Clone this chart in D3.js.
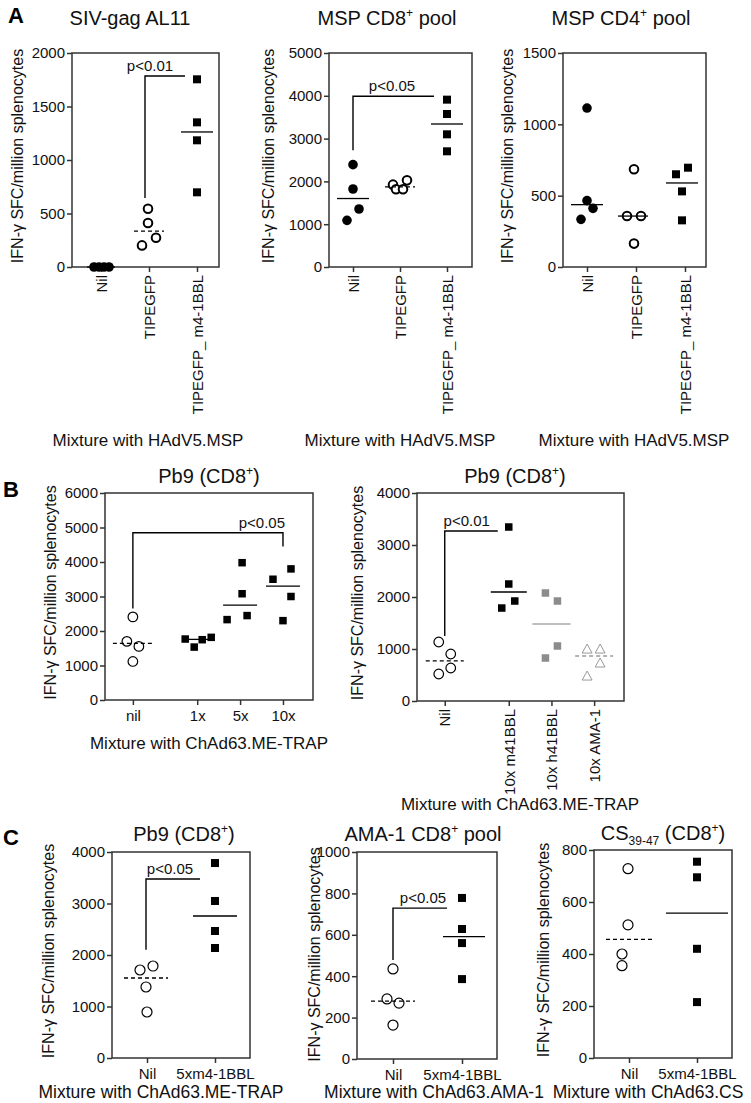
<!DOCTYPE html>
<html><head><meta charset="utf-8">
<script src="https://cdn.jsdelivr.net/npm/d3@7/dist/d3.min.js"></script>
<style>body{margin:0;background:#fff}svg{display:block}</style>
</head><body>
<svg id="fig" width="751" height="1103"></svg>
<script>
// ================= DATA =================
// Panel A (Mixture with HAdV5.MSP)
const aCategories = ["Nil", "TIPEGFP", "TIPEGFP_ m4-1BBL"];
const a1Ticks = [0, 500, 1000, 1500, 2000];
const a1Nil = [0, 0, 0, 0];
const a1Tipegfp = [545, 411, 274, 202];
const a1M41bbl = [1754, 1352, 1184, 698];
const a1Medians = [0, 336, 1262];
const a2Ticks = [0, 1000, 2000, 3000, 4000, 5000];
const a2Nil = [2391, 1822, 1355, 1090];
const a2Tipegfp = [1924, 2025, 1815, 1815];
const a2M41bbl = [3910, 3575, 3100, 2703];
const a2Medians = [1600, 1870, 3341];
const a3Ticks = [0, 500, 1000, 1500];
const a3Nil = [1114, 465, 411, 334];
const a3Tipegfp = [685, 357, 357, 164];
const a3M41bbl = [650, 696, 530, 327];
const a3Medians = [437, 357, 589];
// Panel B (Mixture with ChAd63.ME-TRAP)
const b1Categories = ["nil", "1x", "5x", "10x"];
const b1Ticks = [0, 1000, 2000, 3000, 4000, 5000, 6000];
const b1Nil = [2408, 1699, 1553, 1117];
const b1X1 = [1767, 1534, 1748, 1816];
const b1X5 = [3980, 3080, 2447, 2330];
const b1X10 = [3800, 3500, 3000, 2300];
const b1Medians = [1641, 1757, 2750, 3300];
const b2Categories = ["Nil", "10x m41BBL", "10x h41BBL", "10x AMA-1"];
const b2Ticks = [0, 1000, 2000, 3000, 4000];
const b2Nil = [1135, 904, 519, 635];
const b2M41bbl = [3346, 2250, 1923, 1788];
const b2H41bbl = [2077, 1923, 1058, 827];
const b2Ama1 = [1000, 1000, 731, 481];
const b2Medians = [770, 2096, 1481, 865];
// Panel C
const cCategories = ["Nil", "5xm4-1BBL"];
const c1Ticks = [0, 1000, 2000, 3000, 4000];
const c1Nil = [1709, 1786, 1379, 893];
const c1M41bbl = [3786, 3049, 2466, 2136];
const c1Medians = [1553, 2757];
const c2Ticks = [0, 200, 400, 600, 800, 1000];
const c2Nil = [435, 290, 270, 164];
const c2M41bbl = [778, 628, 560, 386];
const c2Medians = [280, 591];
const c3Ticks = [0, 200, 400, 600, 800];
const c3Nil = [728, 512, 400, 355];
const c3M41bbl = [755, 695, 420, 215];
const c3Medians = [456, 557];
// Significance annotations (values in data units)
const a1Sig = { label: "p<0.01", low: 645, top: 1785 };
const a2Sig = { label: "p<0.05", low: 2730, top: 3990 };
const b1Sig = { label: "p<0.05", low: 2650, top: 4850, rightLow: 4450 };
const b2Sig = { label: "p<0.01", low: 1250, top: 3270 };
const c1Sig = { label: "p<0.05", low: 2100, top: 3476 };
const c2Sig = { label: "p<0.05", low: 478, top: 729 };

const yLabel = "IFN-\u03b3 SFC/million splenocytes";

// ================= LAYOUT / STYLE =================
const FONT = '"Liberation Sans", Arial, Helvetica, sans-serif';
const AX = "#333";
const svg = d3.select("#fig");

function styleAxis(sel, fs) {
  sel.attr("font-family", FONT).attr("font-size", fs);
  sel.select(".domain").remove();
  sel.selectAll(".tick line").attr("stroke", AX).attr("stroke-width", 1.5);
  sel.selectAll(".tick text").attr("fill", "#111");
}

function marker(g, type, cx, cy, sz) {
  if (type === "dot") {
    g.append("circle").attr("cx", cx).attr("cy", cy).attr("r", sz.dot).attr("fill", "#000");
  } else if (type === "ring") {
    g.append("circle").attr("cx", cx).attr("cy", cy).attr("r", sz.ring)
      .attr("fill", "#fff").attr("stroke", "#000").attr("stroke-width", sz.ringW);
  } else if (type === "square" || type === "graySquare") {
    g.append("rect").attr("x", cx - sz.sq / 2).attr("y", cy - sz.sq / 2)
      .attr("width", sz.sq).attr("height", sz.sq)
      .attr("fill", type === "square" ? "#000" : "#8c8c8c");
  } else if (type === "triangle") {
    const h = sz.tri;
    g.append("path")
      .attr("d", `M${cx},${cy - h * 0.55}L${cx + h * 0.55},${cy + h * 0.45}L${cx - h * 0.55},${cy + h * 0.45}Z`)
      .attr("fill", "#fff").attr("stroke", "#9a9a9a").attr("stroke-width", 1);
  }
}

function titleText(g, x, y, parts, fs) {
  const t = g.append("text").attr("x", x).attr("y", y).attr("text-anchor", "middle")
    .attr("font-family", FONT).attr("font-size", fs).attr("fill", "#111");
  parts.forEach(pt => {
    const s = t.append("tspan").text(pt.t);
    if (pt.sup) s.attr("font-size", fs * 0.6).attr("dy", -fs * 0.4);
    if (pt.sub) s.attr("font-size", fs * 0.6).attr("dy", fs * 0.25);
    if (pt.back) s.attr("dy", pt.back);
  });
}

function drawPanel(p) {
  const g = svg.append("g");
  const y = d3.scaleLinear().domain([0, d3.max(p.ticks)]).range([p.bottom, p.top]);
  const x = p.x;
  const ya = g.append("g").attr("transform", `translate(${p.left},0)`)
    .call(d3.axisLeft(y).tickValues(p.ticks).tickSize(5).tickPadding(2).tickFormat(d3.format("d")));
  styleAxis(ya, 15);
  const xa = g.append("g").attr("transform", `translate(0,${p.bottom})`)
    .call(d3.axisBottom(x).tickSize(5).tickPadding(5));
  styleAxis(xa, 15);
  if (p.rotate) {
    xa.selectAll(".tick text").attr("transform", "rotate(-90)").attr("text-anchor", "end")
      .attr("x", -8).attr("y", 0).attr("dy", "0.35em");
  }
  g.append("rect").attr("x", p.left).attr("y", p.top)
    .attr("width", p.right - p.left).attr("height", p.bottom - p.top)
    .attr("fill", "none").attr("stroke", AX).attr("stroke-width", 1.5);

  p.series.forEach(s => {
    const cx = x(s.cat);
    s.values.forEach((v, i) => marker(g, s.marker, cx + s.jitter[i], y(v), p.sz));
    const lx = cx + (s.lineOff || 0);
    g.append("line").attr("x1", lx - s.half).attr("x2", lx + s.half)
      .attr("y1", y(s.median)).attr("y2", y(s.median))
      .attr("stroke", s.lineColor || "#000").attr("stroke-width", 1.3)
      .attr("stroke-dasharray", s.dashed ? "4,3" : null);
  });

  if (p.sig) {
    const S = p.sig;
    const x1 = x(S.from) + S.dx1, x2 = x(S.to) + S.dx2;
    let d = `M${x1},${y(S.low)}V${y(S.top)}H${x2}`;
    if (S.rightLow != null) d += `V${y(S.rightLow)}`;
    g.append("path").attr("d", d).attr("fill", "none").attr("stroke", "#000").attr("stroke-width", 1.4);
    g.append("text").attr("x", x1 + S.labelDx).attr("y", y(S.top) - 5).attr("text-anchor", "middle")
      .attr("font-family", FONT).attr("font-size", 15).attr("fill", "#111").text(S.label);
  }

  titleText(g, p.titleX, p.titleY, p.title, 20);
  g.append("text").attr("transform", `translate(${p.ylabX},${(p.top + p.bottom) / 2 - 4 + (p.ylabDy || 0)}) rotate(-90)`)
    .attr("text-anchor", "middle").attr("dy", "0.35em")
    .attr("font-family", FONT).attr("font-size", 16).attr("fill", "#111").text(yLabel);
  g.append("text").attr("x", p.xtitleX).attr("y", p.xtitleY).attr("text-anchor", "middle")
    .attr("font-family", FONT).attr("font-size", p.xtitleFs || 17).attr("fill", "#111").text(p.xtitle);
}

const szA = { dot: 4.8, ring: 4.3, ringW: 2, sq: 8, tri: 9 };
const szB = { dot: 4.8, ring: 4.8, ringW: 1.2, sq: 7.5, tri: 9 };
const szC = { dot: 4.8, ring: 5, ringW: 1.2, sq: 8, tri: 9 };

function bScale(cats, left, right) {
  const slots = [0, 1.5, 2.5, 3.5];
  const lin = d3.scaleLinear().domain([-0.65, 4.2]).range([left, right]);
  return d3.scaleOrdinal(cats, slots.map(v => lin(v)));
}

// ---------- Panel A ----------
drawPanel({
  left: 72, right: 219, top: 53, bottom: 267, ticks: a1Ticks, rotate: true, sz: szA,
  x: d3.scalePoint(aCategories, [101, 197]),
  series: [
    { cat: aCategories[0], values: a1Nil, jitter: [-7, -2, 3, 8], marker: "dot", median: a1Medians[0], half: 14 },
    { cat: aCategories[1], values: a1Tipegfp, jitter: [-1, -1, 7, -7], marker: "ring", median: a1Medians[1], half: 15, dashed: true },
    { cat: aCategories[2], values: a1M41bbl, jitter: [0, 0, 0, 0], marker: "square", median: a1Medians[2], half: 16 }
  ],
  sig: Object.assign({ from: aCategories[1], to: aCategories[2], dx1: -4, dx2: -12, labelDx: 5 }, a1Sig),
  title: [{ t: "SIV-gag AL11" }], titleX: 130, titleY: 25,
  ylabX: 17, xtitle: "Mixture with HAdV5.MSP", xtitleX: 148, xtitleY: 446
});
drawPanel({
  left: 329, right: 472, top: 53, bottom: 267, ticks: a2Ticks, rotate: true, sz: szA,
  x: d3.scalePoint(aCategories, [353, 447]),
  series: [
    { cat: aCategories[0], values: a2Nil, jitter: [0, 0, 6, -6], marker: "dot", median: a2Medians[0], half: 16 },
    { cat: aCategories[1], values: a2Tipegfp, jitter: [-7, 7, -4, 3], marker: "ring", median: a2Medians[1], half: 15, dashed: true },
    { cat: aCategories[2], values: a2M41bbl, jitter: [0, 0, 0, 0], marker: "square", median: a2Medians[2], half: 16 }
  ],
  sig: Object.assign({ from: aCategories[0], to: aCategories[2], dx1: 0, dx2: -13, labelDx: 39 }, a2Sig),
  title: [{ t: "MSP CD8" }, { t: "+", sup: true }, { t: " pool", back: 8 }], titleX: 387, titleY: 25,
  ylabX: 268, xtitle: "Mixture with HAdV5.MSP", xtitleX: 400, xtitleY: 446
});
drawPanel({
  left: 563, right: 706, top: 53, bottom: 267, ticks: a3Ticks, rotate: true, sz: szA,
  x: d3.scalePoint(aCategories, [587, 685]),
  series: [
    { cat: aCategories[0], values: a3Nil, jitter: [0, 0, 6, -6], marker: "dot", median: a3Medians[0], half: 16 },
    { cat: aCategories[1], values: a3Tipegfp, jitter: [-2, -9, 5, -2], marker: "ring", median: a3Medians[1], half: 15, lineOff: -3 },
    { cat: aCategories[2], values: a3M41bbl, jitter: [-9, 3, -3, -3], marker: "square", median: a3Medians[2], half: 16, lineOff: -3 }
  ],
  title: [{ t: "MSP CD4" }, { t: "+", sup: true }, { t: " pool", back: 8 }], titleX: 621, titleY: 25,
  ylabX: 507, xtitle: "Mixture with HAdV5.MSP", xtitleX: 634, xtitleY: 446
});

// ---------- Panel B ----------
const b1x = bScale(b1Categories, 105, 313);
drawPanel({
  left: 105, right: 313, top: 493, bottom: 700, ticks: b1Ticks, rotate: false, sz: szB,
  x: b1x,
  series: [
    { cat: "nil", values: b1Nil, jitter: [0, -6, 6, 0], marker: "ring", median: b1Medians[0], half: 20, dashed: true },
    { cat: "1x", values: b1X1, jitter: [-12, -3, 5, 14], marker: "square", median: b1Medians[1], half: 13 },
    { cat: "5x", values: b1X5, jitter: [2, 2, 7, -13], marker: "square", median: b1Medians[2], half: 17 },
    { cat: "10x", values: b1X10, jitter: [8, -10, 8, 0], marker: "square", median: b1Medians[3], half: 17 }
  ],
  sig: Object.assign({ from: "nil", to: "10x", dx1: 0, dx2: 0, labelDx: 129 }, b1Sig),
  title: [{ t: "Pb9 (CD8" }, { t: "+", sup: true }, { t: ")", back: 8 }], titleX: 209, titleY: 483,
  ylabX: 50, xtitle: "Mixture with ChAd63.ME-TRAP", xtitleX: 209, xtitleY: 749
});
const b2x = bScale(b2Categories, 417, 624);
drawPanel({
  left: 417, right: 624, top: 493, bottom: 701, ticks: b2Ticks, rotate: true, sz: szB,
  x: b2x,
  series: [
    { cat: b2Categories[0], values: b2Nil, jitter: [-6, 6, -6, 6], marker: "ring", median: b2Medians[0], half: 19, dashed: true },
    { cat: b2Categories[1], values: b2M41bbl, jitter: [0, 0, 6, -7], marker: "square", median: b2Medians[1], half: 18 },
    { cat: b2Categories[2], values: b2H41bbl, jitter: [-6, 6, 6, -6], marker: "graySquare", median: b2Medians[2], half: 19, lineColor: "#a8a8a8" },
    { cat: b2Categories[3], values: b2Ama1, jitter: [-7, 6, 6, -7], marker: "triangle", median: b2Medians[3], half: 19, dashed: true, lineColor: "#9a9a9a" }
  ],
  sig: Object.assign({ from: b2Categories[0], to: b2Categories[1], dx1: 0, dx2: -11, labelDx: 22 }, b2Sig),
  title: [{ t: "Pb9 (CD8" }, { t: "+", sup: true }, { t: ")", back: 8 }], titleX: 515, titleY: 483,
  ylabX: 357, xtitle: "Mixture with ChAd63.ME-TRAP", xtitleX: 520, xtitleY: 810
});

// ---------- Panel C ----------
drawPanel({
  left: 112, right: 250, top: 852, bottom: 1058, ticks: c1Ticks, rotate: false, sz: szC,
  x: d3.scalePoint(cCategories, [147, 215]),
  series: [
    { cat: "Nil", values: c1Nil, jitter: [-7, 6, -1, 0], marker: "ring", median: c1Medians[0], half: 22, dashed: true, lineOff: -1 },
    { cat: "5xm4-1BBL", values: c1M41bbl, jitter: [0, 0, 0, 0], marker: "square", median: c1Medians[1], half: 22 }
  ],
  sig: Object.assign({ from: "Nil", to: "5xm4-1BBL", dx1: -1, dx2: -15, labelDx: 24 }, c1Sig),
  title: [{ t: "Pb9 (CD8" }, { t: "+", sup: true }, { t: ")", back: 8 }], titleX: 184, titleY: 841,
  ylabX: 48, xtitle: "Mixture with ChAd63.ME-TRAP", xtitleX: 161, xtitleY: 1098, xtitleFs: 17.5
});
drawPanel({
  left: 357, right: 497, top: 852, bottom: 1059, ticks: c2Ticks, rotate: false, sz: szC,
  x: d3.scalePoint(cCategories, [393, 462]),
  series: [
    { cat: "Nil", values: c2Nil, jitter: [0, -6, 6, 0], marker: "ring", median: c2Medians[0], half: 22, dashed: true },
    { cat: "5xm4-1BBL", values: c2M41bbl, jitter: [0, 0, 0, 0], marker: "square", median: c2Medians[1], half: 21, lineOff: 2 }
  ],
  sig: Object.assign({ from: "Nil", to: "5xm4-1BBL", dx1: 0, dx2: -15, labelDx: 30 }, c2Sig),
  title: [{ t: "AMA-1 CD8" }, { t: "+", sup: true }, { t: " pool", back: 8 }], titleX: 423, titleY: 841,
  ylabX: 314, ylabDy: 3, xtitle: "Mixture with ChAd63.AMA-1", xtitleX: 434, xtitleY: 1098, xtitleFs: 17.5
});
drawPanel({
  left: 594, right: 732, top: 850, bottom: 1058, ticks: c3Ticks, rotate: false, sz: szC,
  x: d3.scalePoint(cCategories, [629, 697]),
  series: [
    { cat: "Nil", values: c3Nil, jitter: [-1, -1, -7, -7], marker: "ring", median: c3Medians[0], half: 23, dashed: true },
    { cat: "5xm4-1BBL", values: c3M41bbl, jitter: [0, 0, 0, 0], marker: "square", median: c3Medians[1], half: 31 }
  ],
  title: [{ t: "CS" }, { t: "39-47", sub: true }, { t: " (CD8", back: -5 }, { t: "+", sup: true }, { t: ")", back: 8 }],
  titleX: 663, titleY: 840,
  ylabX: 543, xtitle: "Mixture with ChAd63.CS", xtitleX: 648, xtitleY: 1098, xtitleFs: 17.5
});

// Panel letters
[["A", 8, 23], ["B", 3, 497], ["C", 3, 845]].forEach(([t, x, y]) => {
  svg.append("text").attr("x", x).attr("y", y).attr("font-family", FONT)
    .attr("font-size", 22).attr("font-weight", "bold").attr("fill", "#000").text(t);
});
</script>
</body></html>
